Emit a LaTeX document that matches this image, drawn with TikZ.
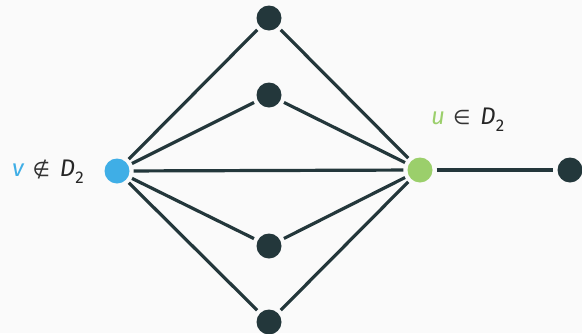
\documentclass[tikz,border=0pt]{standalone}
\usepackage{fontspec}
\setmainfont{Fira Sans}
\newfontfamily\symfont{DejaVu Sans}
\definecolor{bgc}{HTML}{FAFAFA}
\definecolor{dk}{HTML}{23373B}
\definecolor{vblue}{HTML}{3FAEE6}
\definecolor{ugreen}{HTML}{9BCF6B}
\newcommand{\subtwo}{\raisebox{-0.3em}{\fontsize{17}{17}\selectfont 2}}
\newcommand{\relsym}[1]{\hspace{8pt}{\symfont\fontsize{20}{20}\selectfont\color{black!80}\char"#1}\hspace{10pt}}
\begin{document}
\begin{tikzpicture}[x=1pt,y=-1pt,
  vtx/.style={circle,fill=dk,minimum size=25pt,inner sep=0pt},
  edge/.style={draw=dk,line width=3.2pt,shorten >=4pt,shorten <=4pt},
  lab/.style={font=\fontsize{24}{24}\selectfont,text=black!85,inner sep=0pt}]
\fill[bgc] (0,0) rectangle (582,333);
\useasboundingbox (0,0) rectangle (582,333);
\node[vtx,fill=vblue] (v) at (117,171) {};
\node[vtx,fill=ugreen] (u) at (420,170) {};
\node[vtx] (r) at (570,170) {};
\node[vtx] (a) at (269,18) {};
\node[vtx] (b) at (269,95) {};
\node[vtx] (c) at (269,246) {};
\node[vtx] (d) at (269,322) {};
\foreach \m in {a,b,c,d} {
  \draw[edge] (v) -- (\m);
  \draw[edge] (\m) -- (u);
}
\draw[edge] (v) -- (u);
\draw[edge] (u) -- (r);
\node[lab,anchor=west] (vl) at (12,172) {\textcolor{vblue}{\textit{v}}\relsym{2209}\textit{D}\subtwo};
\node[lab,anchor=west] (ul) at (431,120) {\textcolor{ugreen}{\textit{u}}\relsym{2208}\textit{D}\subtwo};
\end{tikzpicture}
\end{document}
